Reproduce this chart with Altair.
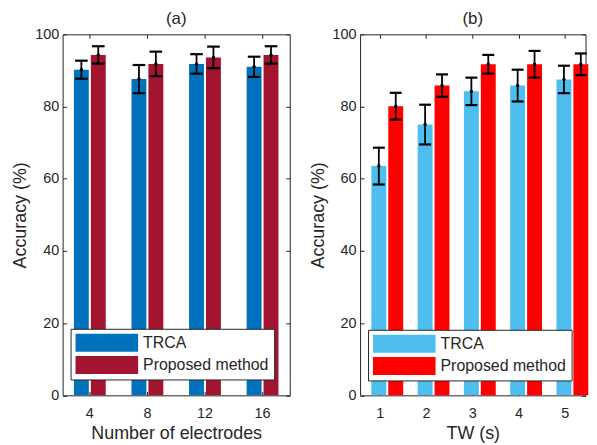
import altair as alt
import pandas as pd

series = ["TRCA", "Proposed method"]
y_ticks = [0, 20, 40, 60, 80, 100]

electrodes = ["4", "8", "12", "16"]
trca_a = [90.2, 87.6, 91.8, 91.0]
trca_a_err = [2.5, 3.9, 2.7, 2.8]
prop_a = [94.3, 91.8, 93.6, 94.3]
prop_a_err = [2.4, 3.4, 3.0, 2.4]

tw = ["1", "2", "3", "4", "5"]
trca_b = [63.5, 75.0, 84.2, 85.8, 87.5]
trca_b_err = [5.1, 5.5, 3.8, 4.4, 3.8]
prop_b = [80.1, 85.8, 91.7, 91.7, 91.7]
prop_b_err = [3.7, 3.1, 2.6, 3.7, 3.0]

colors_a = ["#0072BD", "#A2142F"]
colors_b = ["#4DBEEE", "#FF0000"]

TXT = "#262626"
FONT = "Liberation Sans"
H = 363.5


def make_df(cats, t, te, p, pe):
    rows = []
    for c, v, e in zip(cats, t, te):
        rows.append({"cat": c, "series": series[0], "acc": v, "lo": v - e, "hi": v + e})
    for c, v, e in zip(cats, p, pe):
        rows.append({"cat": c, "series": series[1], "acc": v, "lo": v - e, "hi": v + e})
    return pd.DataFrame(rows)


def panel(df, cats, colors, title, xtitle, width, pin, opin, opout, cap, legx, legy):
    xscale = alt.Scale(paddingInner=pin, paddingOuter=0)
    oscale = alt.Scale(paddingInner=opin, paddingOuter=opout)
    yscale = alt.Scale(domain=[0, 100], nice=False)
    xoff = alt.XOffset("series:N", sort=series, scale=oscale)

    xaxis = alt.Axis(title=xtitle, orient="bottom", ticks=False, tickSize=0,
                     domain=False, labelAngle=0, labelPadding=11,
                     titlePadding=5, labelFontSize=14.5, titleFontSize=18,
                     labelColor=TXT, titleColor=TXT, titleFontWeight="normal",
                     grid=True, tickBand="center", gridColor=TXT, gridOpacity=1,
                     gridWidth=1, gridDash=[4, H - 8, 4, 1000])
    yaxis = alt.Axis(title="Accuracy (%)", values=y_ticks, ticks=False, tickSize=0,
                     domain=False, labelPadding=4, titlePadding=5,
                     labelFontSize=14.5, titleFontSize=18, labelColor=TXT,
                     titleColor=TXT, titleFontWeight="normal",
                     grid=True, gridColor=TXT, gridOpacity=1, gridWidth=1,
                     gridDash=[4, width - 8, 4, 1000])

    def X():
        return alt.X("cat:N", sort=cats, scale=xscale, axis=xaxis, title=xtitle)

    def Y(field):
        return alt.Y(field, type="quantitative", scale=yscale, axis=yaxis,
                     title="Accuracy (%)")

    bars = alt.Chart(df).mark_bar().encode(
        x=X(),
        xOffset=xoff,
        y=Y("acc"),
        color=alt.Color("series:N", sort=series,
                        scale=alt.Scale(domain=series, range=colors),
                        legend=alt.Legend(orient="none", legendX=legx, legendY=legy,
                                          title=None, fillColor="white", strokeColor=TXT,
                                          padding=5, symbolType="M-3.5,-1H3.5V1H-3.5Z",
                                          symbolSize=324, symbolOffset=22.5, labelOffset=27.5,
                                          labelFontSize=16, labelColor=TXT, rowPadding=4.5,
                                          symbolStrokeWidth=0, symbolOpacity=1,
                                          labelLimit=400)),
    )

    rules = alt.Chart(df).mark_rule(color="black", strokeWidth=1.8).encode(
        x=X(), xOffset=xoff, y=Y("lo"), y2="hi:Q",
    )
    caps_lo = alt.Chart(df).mark_tick(color="black", thickness=2.2, size=cap, opacity=1).encode(
        x=X(), xOffset=xoff, y=Y("lo"),
    )
    caps_hi = alt.Chart(df).mark_tick(color="black", thickness=2.2, size=cap, opacity=1).encode(
        x=X(), xOffset=xoff, y=Y("hi"),
    )
    dots = alt.Chart(df).mark_point(color="black", filled=True, size=12, opacity=1).encode(
        x=X(), xOffset=xoff, y=Y("acc"),
    )

    return alt.layer(bars, rules, caps_lo, caps_hi, dots).properties(
        width=width, height=H,
        title=alt.TitleParams(title, fontSize=17, fontWeight="normal", color=TXT, offset=-1.5),
    )


df_a = make_df(electrodes, trca_a, trca_a_err, prop_a, prop_a_err)
df_b = make_df(tw, trca_b, trca_b_err, prop_b, prop_b_err)

pa = panel(df_a, electrodes, colors_a, "(a)", "Number of electrodes", 228.7,
           0.055, 0.118, 0.668, 12.7, 8, 296.5)
pb = panel(df_b, tw, colors_b, "(b)", "TW (s)", 227,
           0.128, 0.148, 0.577, 12, 8, 297.5)

chart = alt.hconcat(pa, pb, spacing=17.5).resolve_scale(color="independent").configure(
    font=FONT
).configure_view(stroke=TXT, strokeWidth=1).properties(
    padding={"left": 3, "top": 0, "right": 0, "bottom": 0}
)

chart.save("out.html", embed_options={"renderer": "svg", "actions": False})
